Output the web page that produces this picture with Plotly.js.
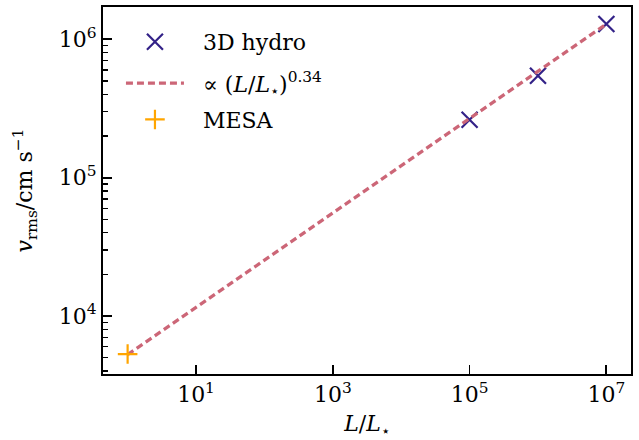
<!DOCTYPE html>
<html>
<head>
<meta charset="utf-8">
<script src="https://cdn.plot.ly/plotly-3.0.1.min.js"></script>
<style>html,body{margin:0;padding:0;background:#fff;}#plot{width:639px;height:440px;}</style>
</head>
<body>
<div id="plot"></div>
<script>
// Data
const hydroL = [1e5, 1e6, 1e7];
const hydroV = [2.62e5, 5.45e5, 1.29e6];
const fitL = [1, 1e7];
const fitV = [5.25e3, 1.29e6];
const mesaL = [1];
const mesaV = [5.3e3];
const xTickVals = [10, 1e3, 1e5, 1e7];
const xTickText = ['10<sup>1</sup>', '10<sup>3</sup>', '10<sup>5</sup>', '10<sup>7</sup>'];
const yTickVals = [1e4, 1e5, 1e6];
const yTickText = ['10<sup>4</sup>', '10<sup>5</sup>', '10<sup>6</sup>'];
const seriesNames = ['3D hydro', '∝ (<i>L</i>/<i>L</i><sub>⋆</sub>)<sup>0.34</sup>', 'MESA'];

const yMinor = [];
for (let e = 3; e <= 6; e++) {
  for (let m = 2; m <= 9; m++) yMinor.push(m * Math.pow(10, e));
}

const FONT = 'DejaVu Serif, Liberation Serif, serif';
const FS = 22;
const PAD = '\u00A0\u00A0';

const traces = [
  {
    x: hydroL, y: hydroV, mode: 'markers', name: PAD + seriesNames[0], legend: 'legend',
    marker: {symbol: 'x-thin-open', size: 16, color: '#332288', line: {color: '#332288', width: 2.2}}
  },
  {
    x: fitL, y: fitV, mode: 'lines', name: PAD + seriesNames[1], legend: 'legend2',
    line: {color: '#CC6677', width: 3.2, dash: '7px,4px'}
  },
  {
    x: mesaL, y: mesaV, mode: 'markers', name: PAD + seriesNames[2], legend: 'legend3',
    marker: {symbol: 'cross-thin-open', size: 14, color: '#FFA500', line: {color: '#FFA500', width: 2.2}}
  }
];

function leg(y) {
  return {x: 0.034, y: y, xanchor: 'left', yanchor: 'middle', bgcolor: 'rgba(0,0,0,0)',
          font: {family: FONT, size: FS}, itemwidth: 58};
}

const layout = {
  width: 639, height: 440,
  margin: {l: 103, r: 8, t: 7, b: 66},
  paper_bgcolor: '#fff', plot_bgcolor: '#fff',
  font: {family: FONT, size: FS, color: '#000'},
  showlegend: true,
  legend: leg(0.905),
  legend2: leg(0.792),
  legend3: leg(0.693),
  xaxis: {
    type: 'log', range: [-0.36, 7.36],
    tickvals: xTickVals, ticktext: xTickText,
    ticks: 'inside', ticklen: 9, tickwidth: 1.8, tickcolor: '#000',
    showline: true, linecolor: '#000', linewidth: 2, mirror: true,
    showgrid: false, zeroline: false,
    tickfont: {family: FONT, size: FS},
    title: {text: '<i>L</i>/<i>L</i><sub>⋆</sub>', font: {family: FONT, size: FS}, standoff: 10}
  },
  yaxis: {
    type: 'log', range: [3.58, 6.234],
    tickvals: yTickVals, ticktext: yTickText,
    ticks: 'inside', ticklen: 9, tickwidth: 1.8, tickcolor: '#000',
    showline: true, linecolor: '#000', linewidth: 2, mirror: true,
    showgrid: false, zeroline: false,
    tickfont: {family: FONT, size: FS},
    minor: {tickvals: yMinor, ticks: 'inside', ticklen: 4.5, tickwidth: 1.2, tickcolor: '#000', showgrid: false},
    title: {text: '<i>v</i><sub>rms</sub>/cm s<sup>−1</sup>', font: {family: FONT, size: FS}, standoff: 20}
  }
};

Plotly.newPlot('plot', traces, layout, {displayModeBar: false, staticPlot: true});
</script>
</body>
</html>
